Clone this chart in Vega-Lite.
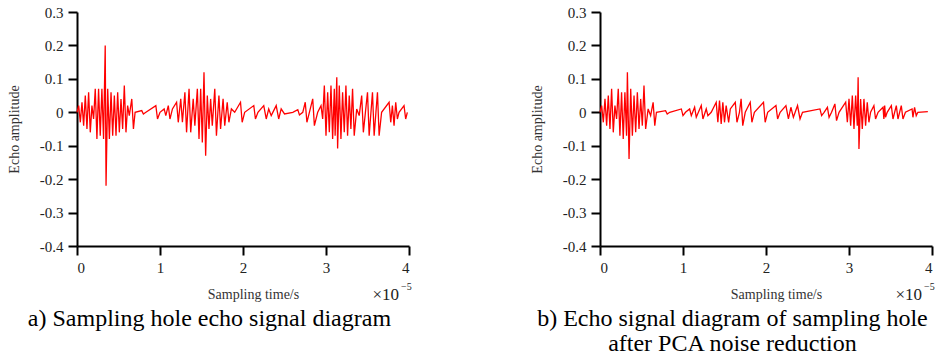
{
  "$schema": "https://vega.github.io/schema/vega-lite/v6.json",
  "background": "white",
  "padding": {"left": 7, "top": 5, "right": 0, "bottom": 5},
  "config": {
    "font": "Liberation Serif",
    "view": {"stroke": null},
    "axis": {
      "grid": false,
      "domainColor": "black",
      "domainWidth": 2,
      "tickColor": "black",
      "tickWidth": 2,
      "tickSize": 9,
      "labelFont": "Liberation Serif",
      "labelFontSize": 15,
      "labelColor": "#222",
      "labelOverlap": false,
      "titleFont": "Liberation Serif",
      "titleFontSize": 14,
      "titleFontWeight": "normal",
      "titleColor": "#333"
    },
    "title": {"font": "Liberation Serif", "fontSize": 24, "fontWeight": "normal", "color": "black", "orient": "bottom", "anchor": "middle", "frame": "bounds"}
  },
  "datasets": {
    "a": [
      {"t": 0, "v": 0}, {"t": 0.02, "v": 0.02}, {"t": 0.04, "v": -0.03}, {"t": 0.06, "v": 0.03}, {"t": 0.08, "v": -0.04},
      {"t": 0.1, "v": 0.05}, {"t": 0.12, "v": -0.05}, {"t": 0.14, "v": 0.06}, {"t": 0.16, "v": -0.06}, {"t": 0.18, "v": 0.02},
      {"t": 0.2, "v": -0.02}, {"t": 0.22, "v": 0.07}, {"t": 0.24, "v": -0.08}, {"t": 0.26, "v": 0.07}, {"t": 0.28, "v": -0.07},
      {"t": 0.3, "v": 0.07}, {"t": 0.32, "v": -0.08}, {"t": 0.34, "v": 0.2}, {"t": 0.35, "v": -0.22}, {"t": 0.37, "v": 0.07},
      {"t": 0.39, "v": -0.08}, {"t": 0.41, "v": 0.06}, {"t": 0.43, "v": -0.07}, {"t": 0.45, "v": 0.05}, {"t": 0.47, "v": -0.07},
      {"t": 0.49, "v": 0.06}, {"t": 0.51, "v": -0.06}, {"t": 0.53, "v": 0.04}, {"t": 0.55, "v": -0.05}, {"t": 0.57, "v": 0.08},
      {"t": 0.59, "v": -0.06}, {"t": 0.61, "v": 0.02}, {"t": 0.63, "v": -0.01}, {"t": 0.66, "v": 0.04}, {"t": 0.68, "v": -0.05},
      {"t": 0.7, "v": 0}, {"t": 0.78, "v": 0.005}, {"t": 0.8, "v": -0.005}, {"t": 0.83, "v": 0}, {"t": 0.95, "v": 0.02},
      {"t": 0.97, "v": -0.02}, {"t": 1.0, "v": 0}, {"t": 1.05, "v": 0.01}, {"t": 1.07, "v": -0.01}, {"t": 1.1, "v": 0.02},
      {"t": 1.12, "v": -0.02}, {"t": 1.15, "v": 0.01},
      {"t": 1.2, "v": 0.03}, {"t": 1.22, "v": -0.03}, {"t": 1.25, "v": 0.04}, {"t": 1.27, "v": -0.03}, {"t": 1.3, "v": 0.06},
      {"t": 1.32, "v": -0.06}, {"t": 1.35, "v": 0.07}, {"t": 1.37, "v": -0.06}, {"t": 1.4, "v": 0.04}, {"t": 1.42, "v": -0.04},
      {"t": 1.45, "v": 0.07}, {"t": 1.47, "v": -0.08}, {"t": 1.49, "v": 0.07}, {"t": 1.51, "v": -0.09}, {"t": 1.53, "v": 0.12},
      {"t": 1.55, "v": -0.13}, {"t": 1.57, "v": 0.05}, {"t": 1.59, "v": -0.05}, {"t": 1.61, "v": 0.04}, {"t": 1.63, "v": -0.04},
      {"t": 1.66, "v": 0.07}, {"t": 1.68, "v": -0.07}, {"t": 1.71, "v": 0.05}, {"t": 1.73, "v": -0.05}, {"t": 1.76, "v": 0.04},
      {"t": 1.78, "v": -0.04}, {"t": 1.81, "v": 0.03}, {"t": 1.83, "v": -0.03}, {"t": 1.86, "v": 0.01}, {"t": 1.9, "v": 0},
      {"t": 1.97, "v": 0.03}, {"t": 1.99, "v": -0.03}, {"t": 2.02, "v": 0}, {"t": 2.13, "v": 0.02}, {"t": 2.15, "v": -0.02},
      {"t": 2.18, "v": 0}, {"t": 2.25, "v": 0.02}, {"t": 2.28, "v": -0.02}, {"t": 2.31, "v": 0.01}, {"t": 2.34, "v": -0.01},
      {"t": 2.4, "v": 0.02}, {"t": 2.43, "v": -0.02}, {"t": 2.46, "v": 0.01}, {"t": 2.5, "v": -0.005}, {"t": 2.6, "v": 0},
      {"t": 2.66, "v": 0.008}, {"t": 2.68, "v": -0.008}, {"t": 2.72, "v": 0}, {"t": 2.75, "v": 0.03}, {"t": 2.77, "v": -0.03},
      {"t": 2.8, "v": 0}, {"t": 2.84, "v": 0.04}, {"t": 2.86, "v": -0.04}, {"t": 2.9, "v": 0},
      {"t": 2.94, "v": 0.02}, {"t": 2.96, "v": -0.02}, {"t": 2.98, "v": 0.08}, {"t": 3.0, "v": -0.07}, {"t": 3.02, "v": 0.06},
      {"t": 3.04, "v": -0.06}, {"t": 3.06, "v": 0.08}, {"t": 3.08, "v": -0.08}, {"t": 3.1, "v": 0.07}, {"t": 3.11, "v": -0.07},
      {"t": 3.13, "v": 0.105}, {"t": 3.14, "v": -0.108}, {"t": 3.16, "v": 0.08}, {"t": 3.18, "v": -0.08}, {"t": 3.2, "v": 0.06},
      {"t": 3.22, "v": -0.06}, {"t": 3.24, "v": 0.08}, {"t": 3.26, "v": -0.07}, {"t": 3.28, "v": 0.05}, {"t": 3.3, "v": -0.05},
      {"t": 3.32, "v": 0.07}, {"t": 3.34, "v": -0.07}, {"t": 3.37, "v": 0.01}, {"t": 3.4, "v": -0.01}, {"t": 3.43, "v": 0.05},
      {"t": 3.45, "v": -0.06}, {"t": 3.5, "v": 0.06}, {"t": 3.52, "v": -0.07}, {"t": 3.56, "v": 0.06}, {"t": 3.58, "v": -0.07},
      {"t": 3.62, "v": 0.06}, {"t": 3.64, "v": -0.07}, {"t": 3.67, "v": 0}, {"t": 3.76, "v": 0.03}, {"t": 3.78, "v": -0.03},
      {"t": 3.8, "v": 0.02}, {"t": 3.82, "v": -0.04}, {"t": 3.84, "v": 0.03}, {"t": 3.86, "v": -0.02}, {"t": 3.88, "v": 0},
      {"t": 3.94, "v": 0.02}, {"t": 3.96, "v": -0.02}, {"t": 3.98, "v": 0}
    ],
    "b": [
      {"t": 0, "v": 0}, {"t": 0.02, "v": 0.02}, {"t": 0.04, "v": -0.03}, {"t": 0.06, "v": 0.04}, {"t": 0.08, "v": -0.04},
      {"t": 0.1, "v": 0.05}, {"t": 0.12, "v": -0.05}, {"t": 0.14, "v": 0.07}, {"t": 0.16, "v": -0.06}, {"t": 0.18, "v": 0.02},
      {"t": 0.2, "v": -0.02}, {"t": 0.22, "v": 0.07}, {"t": 0.24, "v": -0.07}, {"t": 0.26, "v": 0.06}, {"t": 0.28, "v": -0.08},
      {"t": 0.3, "v": 0.06}, {"t": 0.32, "v": -0.07}, {"t": 0.33, "v": 0.12}, {"t": 0.35, "v": -0.14}, {"t": 0.37, "v": 0.07},
      {"t": 0.39, "v": -0.07}, {"t": 0.41, "v": 0.05}, {"t": 0.43, "v": -0.06}, {"t": 0.45, "v": 0.06}, {"t": 0.47, "v": -0.05},
      {"t": 0.49, "v": 0.04}, {"t": 0.51, "v": -0.04}, {"t": 0.53, "v": 0.08}, {"t": 0.55, "v": -0.05}, {"t": 0.58, "v": 0.01},
      {"t": 0.61, "v": -0.01}, {"t": 0.64, "v": 0.03}, {"t": 0.66, "v": -0.04}, {"t": 0.68, "v": 0},
      {"t": 0.79, "v": 0.005}, {"t": 0.81, "v": -0.005}, {"t": 0.84, "v": 0}, {"t": 0.98, "v": 0.01}, {"t": 1.0, "v": -0.01},
      {"t": 1.03, "v": 0}, {"t": 1.08, "v": 0.01}, {"t": 1.1, "v": -0.01}, {"t": 1.14, "v": 0.015}, {"t": 1.16, "v": -0.015},
      {"t": 1.22, "v": 0.02}, {"t": 1.24, "v": -0.02}, {"t": 1.28, "v": 0.01}, {"t": 1.3, "v": -0.01}, {"t": 1.34, "v": 0},
      {"t": 1.4, "v": 0.03}, {"t": 1.42, "v": -0.03}, {"t": 1.44, "v": 0.035}, {"t": 1.46, "v": -0.035}, {"t": 1.48, "v": 0.03},
      {"t": 1.5, "v": -0.03}, {"t": 1.52, "v": 0.02}, {"t": 1.55, "v": -0.03}, {"t": 1.57, "v": 0.01}, {"t": 1.63, "v": 0.03},
      {"t": 1.65, "v": -0.03}, {"t": 1.68, "v": 0}, {"t": 1.7, "v": 0.04}, {"t": 1.72, "v": -0.04}, {"t": 1.75, "v": 0},
      {"t": 1.81, "v": 0.03}, {"t": 1.83, "v": -0.03}, {"t": 1.86, "v": 0}, {"t": 1.97, "v": 0.03}, {"t": 1.99, "v": -0.03},
      {"t": 2.02, "v": 0}, {"t": 2.12, "v": 0.02}, {"t": 2.14, "v": -0.02}, {"t": 2.17, "v": 0}, {"t": 2.24, "v": 0.02},
      {"t": 2.27, "v": -0.02}, {"t": 2.3, "v": 0.015}, {"t": 2.33, "v": -0.015}, {"t": 2.38, "v": 0.02}, {"t": 2.41, "v": -0.02},
      {"t": 2.44, "v": 0}, {"t": 2.65, "v": 0.01}, {"t": 2.67, "v": -0.01}, {"t": 2.7, "v": 0}, {"t": 2.74, "v": 0.015},
      {"t": 2.76, "v": -0.015}, {"t": 2.79, "v": 0}, {"t": 2.83, "v": 0.025}, {"t": 2.85, "v": -0.025}, {"t": 2.88, "v": 0},
      {"t": 2.96, "v": 0.03}, {"t": 2.98, "v": -0.03}, {"t": 3.0, "v": 0.04}, {"t": 3.02, "v": -0.04}, {"t": 3.04, "v": 0.05},
      {"t": 3.06, "v": -0.05}, {"t": 3.08, "v": 0.05}, {"t": 3.1, "v": -0.04}, {"t": 3.11, "v": 0.105}, {"t": 3.12, "v": -0.11},
      {"t": 3.14, "v": 0.04}, {"t": 3.16, "v": -0.05}, {"t": 3.18, "v": 0.04}, {"t": 3.2, "v": -0.04}, {"t": 3.22, "v": 0.03},
      {"t": 3.24, "v": -0.03}, {"t": 3.26, "v": 0}, {"t": 3.3, "v": 0.02}, {"t": 3.32, "v": -0.02}, {"t": 3.35, "v": 0},
      {"t": 3.41, "v": 0.015}, {"t": 3.42, "v": -0.02}, {"t": 3.43, "v": 0.02}, {"t": 3.44, "v": -0.015}, {"t": 3.46, "v": 0},
      {"t": 3.51, "v": 0.02}, {"t": 3.53, "v": -0.02}, {"t": 3.57, "v": 0.02}, {"t": 3.59, "v": -0.02}, {"t": 3.63, "v": 0.02},
      {"t": 3.65, "v": -0.02}, {"t": 3.68, "v": 0}, {"t": 3.76, "v": 0.01}, {"t": 3.77, "v": -0.015}, {"t": 3.79, "v": 0.015},
      {"t": 3.81, "v": -0.01}, {"t": 3.83, "v": 0}, {"t": 3.95, "v": 0.002}
    ]
  },
  "spacing": 118,
  "hconcat": [
    {
      "width": 332,
      "height": 234,
      "title": {"text": "a) Sampling hole echo signal diagram", "offset": 4},
      "encoding": {
        "x": {"type": "quantitative", "scale": {"domain": [0, 4], "nice": false},
          "axis": {"values": [0, 1, 2, 3, 4], "format": "d", "title": "Sampling time/s", "labelPadding": 5, "titlePadding": 12, "titleX": 176}},
        "y": {"type": "quantitative", "scale": {"domain": [-0.4, 0.3], "nice": false, "zero": false},
          "axis": {"values": [-0.4, -0.3, -0.2, -0.1, 0, 0.1, 0.2, 0.3], "labelExpr": "toString(round(datum.value*10)/10)", "title": "Echo amplitude", "labelPadding": 5, "titlePadding": 18}}
      },
      "layer": [
        {
          "data": {"name": "a"},
          "mark": {"type": "line", "color": "#ff0000", "strokeWidth": 1.3, "interpolate": "linear"},
          "encoding": {"x": {"field": "t"}, "y": {"field": "v"}}
        },
        {
          "data": {"values": [{}]},
          "mark": {"type": "text", "text": "×10", "fontSize": 17, "align": "right", "baseline": "alphabetic", "dx": -10, "dy": 54, "color": "#222"},
          "encoding": {"x": {"datum": 4}, "y": {"datum": -0.4}}
        },
        {
          "data": {"values": [{}]},
          "mark": {"type": "text", "text": "−5", "fontSize": 10, "align": "left", "baseline": "alphabetic", "dx": -8, "dy": 44, "color": "#222"},
          "encoding": {"x": {"datum": 4}, "y": {"datum": -0.4}}
        }
      ]
    },
    {
      "width": 332,
      "height": 234,
      "title": {"text": ["b) Echo signal diagram of sampling hole", "after PCA noise reduction"], "offset": 4, "lineHeight": 25},
      "encoding": {
        "x": {"type": "quantitative", "scale": {"domain": [0, 4], "nice": false},
          "axis": {"values": [0, 1, 2, 3, 4], "format": "d", "title": "Sampling time/s", "labelPadding": 5, "titlePadding": 12, "titleX": 176}},
        "y": {"type": "quantitative", "scale": {"domain": [-0.4, 0.3], "nice": false, "zero": false},
          "axis": {"values": [-0.4, -0.3, -0.2, -0.1, 0, 0.1, 0.2, 0.3], "labelExpr": "toString(round(datum.value*10)/10)", "title": "Echo amplitude", "labelPadding": 5, "titlePadding": 18}}
      },
      "layer": [
        {
          "data": {"name": "b"},
          "mark": {"type": "line", "color": "#ff0000", "strokeWidth": 1.3, "interpolate": "linear"},
          "encoding": {"x": {"field": "t"}, "y": {"field": "v"}}
        },
        {
          "data": {"values": [{}]},
          "mark": {"type": "text", "text": "×10", "fontSize": 17, "align": "right", "baseline": "alphabetic", "dx": -10, "dy": 54, "color": "#222"},
          "encoding": {"x": {"datum": 4}, "y": {"datum": -0.4}}
        },
        {
          "data": {"values": [{}]},
          "mark": {"type": "text", "text": "−5", "fontSize": 10, "align": "left", "baseline": "alphabetic", "dx": -8, "dy": 44, "color": "#222"},
          "encoding": {"x": {"datum": 4}, "y": {"datum": -0.4}}
        }
      ]
    }
  ]
}
